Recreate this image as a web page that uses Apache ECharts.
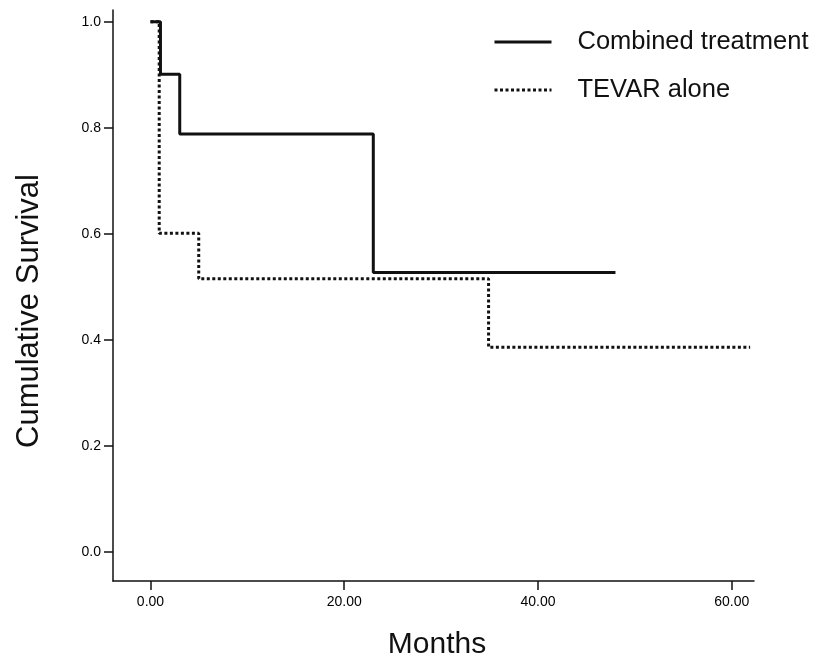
<!DOCTYPE html>
<html>
<head>
<meta charset="utf-8">
<script src="https://cdn.jsdelivr.net/npm/echarts@6/dist/echarts.min.js"></script>
<style>
  html, body { margin: 0; padding: 0; background: #fff; }
  #chart { width: 816px; height: 658px; }
</style>
</head>
<body>
<div id="chart"></div>
<script>
// survival steps: [months, cumulative survival]
const combinedSteps = [[0, 1.0], [1.03, 0.901], [3.02, 0.788], [23.0, 0.527], [48.0, 0.527]]
const tevarSteps = [[0, 1.0], [0.9, 0.601], [4.98, 0.515], [34.9, 0.386], [61.9, 0.386]]
const xTicks = [0, 20, 40, 60]
const yTicks = [0, 0.2, 0.4, 0.6, 0.8, 1.0]

const font = 'Liberation Sans, Arial, sans-serif'

const chart = echarts.init(document.getElementById('chart'))
chart.setOption({
  animation: false,
  backgroundColor: '#fff',
  grid: { left: 113, right: 62, top: 10, bottom: 77, containLabel: false },
  legend: {
    orient: 'vertical',
    left: 493,
    top: 29,
    padding: 0,
    itemWidth: 57,
    itemHeight: 14,
    itemGap: 22,
    itemStyle: { opacity: 0 },
    lineStyle: { width: 3 },
    textStyle: { fontFamily: font, fontSize: 25.5, color: '#111', padding: [0, 0, 0, 21] },
    data: ['Combined treatment', 'TEVAR alone']
  },
  // axis titles placed by hand to sit where the reference has them
  graphic: [
    {
      type: 'text',
      x: 29, y: 311,
      rotation: Math.PI / 2,
      style: {
        text: 'Cumulative Survival',
        font: '31px ' + font,
        fill: '#111',
        align: 'center',
        verticalAlign: 'middle'
      }
    },
    {
      type: 'text',
      x: 437, y: 645,
      style: {
        text: 'Months',
        font: '30px ' + font,
        fill: '#111',
        align: 'center',
        verticalAlign: 'middle'
      }
    }
  ],
  xAxis: {
    type: 'value',
    min: -3.87,
    max: 62.3,
    splitLine: { show: false },
    axisLine: { show: true, onZero: false, lineStyle: { color: '#111', width: 1.5 } },
    axisTick: { show: true, length: 9, lineStyle: { color: '#111', width: 1.5 }, customValues: xTicks },
    axisLabel: {
      customValues: xTicks,
      margin: 14,
      fontFamily: font, fontSize: 14, color: '#000',
      formatter: v => v.toFixed(2)
    }
  },
  yAxis: {
    type: 'value',
    min: -0.0547,
    max: 1.022,
    splitLine: { show: false },
    axisLine: { show: true, onZero: false, lineStyle: { color: '#111', width: 1.5 } },
    axisTick: { show: true, length: 9, lineStyle: { color: '#111', width: 1.5 }, customValues: yTicks },
    axisLabel: {
      customValues: yTicks,
      margin: 12,
      fontFamily: font, fontSize: 14, color: '#000',
      formatter: v => v.toFixed(1)
    }
  },
  series: [
    {
      name: 'TEVAR alone',
      type: 'line',
      step: 'end',
      symbol: 'none',
      data: tevarSteps,
      lineStyle: { color: '#111', width: 3, type: [3, 2.5] },
      itemStyle: { color: '#111' },
      z: 2
    },
    {
      name: 'Combined treatment',
      type: 'line',
      step: 'end',
      symbol: 'none',
      data: combinedSteps,
      lineStyle: { color: '#111', width: 3 },
      itemStyle: { color: '#111' },
      z: 3
    }
  ]
})

window.addEventListener('resize', () => chart.resize())
</script>
</body>
</html>
